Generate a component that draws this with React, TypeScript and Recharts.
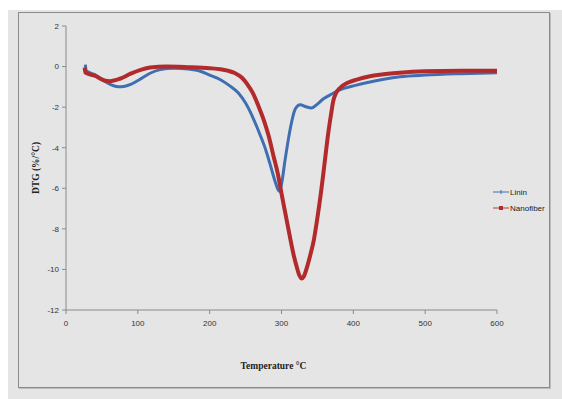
import React from 'react';
import {
  LineChart,
  Line,
  XAxis,
  YAxis,
  Label,
} from 'recharts';

// Linin DTG curve (temperature °C, %/°C)
const lininTemp = [
  27, 28, 40, 55, 65, 73, 82, 90, 102, 117, 131, 150, 170, 187, 200, 215, 228,
  240, 250, 260, 270, 278, 284, 291, 295, 297, 300, 305, 312, 319, 326, 334,
  342, 350, 358, 370, 381, 400, 428, 465, 500, 550, 600,
];
const lininDtg = [
  0.1, -0.2, -0.4, -0.75, -0.93, -1.0, -0.97, -0.88, -0.65, -0.33, -0.15,
  -0.08, -0.12, -0.23, -0.42, -0.65, -0.95, -1.3, -1.8, -2.5, -3.35, -4.1,
  -4.8, -5.65, -6.05, -6.15, -5.8, -4.6, -3.1, -2.1, -1.88, -1.98, -2.04,
  -1.85, -1.6, -1.35, -1.15, -0.95, -0.72, -0.5, -0.42, -0.35, -0.3,
];

// Nanofiber DTG curve
const nanoTemp = [
  26, 27, 40, 55, 61, 75, 90, 105, 117, 140, 170, 200, 215, 225, 235, 245,
  252, 260, 268, 275, 282, 289, 295, 300, 306, 312, 317, 321, 325, 328, 331,
  335, 340, 345, 350, 355, 360, 365, 369, 372, 376, 381, 392, 405, 420, 437,
  465, 500, 550, 600,
];
const nanoDtg = [
  -0.05, -0.3, -0.45, -0.7, -0.72, -0.6, -0.35, -0.15, -0.05, 0.0, -0.03,
  -0.08, -0.13, -0.2, -0.32, -0.55, -0.85, -1.3, -1.95, -2.6, -3.4, -4.43,
  -5.3, -6.25, -7.35, -8.45, -9.3, -9.85, -10.3, -10.45, -10.35, -9.95, -9.3,
  -8.55, -7.45, -6.2, -4.75, -3.3, -2.35, -1.7, -1.3, -1.07, -0.8, -0.64,
  -0.5, -0.4, -0.3, -0.23, -0.2, -0.2,
];

const xTicks = [0, 100, 200, 300, 400, 500, 600];
const yTicks = [-12, -10, -8, -6, -4, -2, 0, 2];

const lininData = lininTemp.map((t, i) => ({ t, v: lininDtg[i] }));
const nanoData = nanoTemp.map((t, i) => ({ t, v: nanoDtg[i] }));

const BLUE = '#3f6fb2';
const RED = '#b22a2b';
const AXIS = '#8a8a8a';

const tickStyle = {
  fontFamily: '"Liberation Sans", Arial, sans-serif',
  fontSize: 8,
  fill: '#333',
};

const legendItems = [
  { name: 'Linin', color: BLUE, square: false },
  { name: 'Nanofiber', color: RED, square: true },
];

const ChartLegend = () => (
  <div
    style={{
      position: 'absolute',
      left: 493,
      top: 184,
      fontFamily: '"Liberation Sans", Arial, sans-serif',
      fontSize: 8,
      color: '#222',
    }}
  >
    {legendItems.map((item) => (
      <div
        key={item.name}
        style={{ display: 'flex', alignItems: 'center', height: 16 }}
      >
        <svg width={16} height={8}>
          <line
            x1={0}
            y1={4}
            x2={16}
            y2={4}
            stroke={item.color}
            strokeWidth={item.square ? 2 : 1}
            opacity={item.square ? 0.45 : 1}
          />
          {item.square ? (
            <rect x={6} y={2} width={4} height={4} fill={item.color} />
          ) : (
            <line x1={8} y1={2} x2={8} y2={6} stroke={item.color} strokeWidth={1} />
          )}
        </svg>
        <span style={{ marginLeft: 1 }}>{item.name}</span>
      </div>
    ))}
  </div>
);

const titleFont = {
  fontFamily: '"Liberation Serif", "Times New Roman", serif',
  fontWeight: 'bold',
  fill: '#222',
};

export default function App() {
  return (
    <div
      style={{
        position: 'absolute',
        left: 0,
        top: 0,
        width: 562,
        height: 399,
        background: '#ffffff',
        overflow: 'hidden',
      }}
    >
      <div
        style={{
          position: 'absolute',
          left: 8,
          top: 10,
          width: 554,
          height: 389,
          background: '#e5e5e5',
        }}
      />
      <div
        style={{
          position: 'absolute',
          left: 18,
          top: 12,
          width: 530,
          height: 374,
          border: `1px solid ${AXIS}`,
          boxShadow: '1px 1px 0 #bdbdbd',
        }}
      />
      <div style={{ position: 'absolute', left: 0, top: 0 }}>
        <LineChart
          width={562}
          height={399}
          margin={{ top: 26, right: 65, bottom: 59, left: 6 }}
        >
          <XAxis
            type="number"
            dataKey="t"
            domain={[0, 600]}
            ticks={xTicks}
            allowDataOverflow
            height={30}
            stroke={AXIS}
            tickSize={4}
            tick={tickStyle}
            tickMargin={6}
          >
            <Label
              value="Temperature °C"
              position="bottom"
              offset={22}
              dx={-8}
              style={{ ...titleFont, fontSize: 9.5 }}
            />
          </XAxis>
          <YAxis
            type="number"
            domain={[-12, 2]}
            ticks={yTicks}
            width={60}
            stroke={AXIS}
            tickSize={4}
            tick={tickStyle}
            tickMargin={3}
          >
            <Label
              value="DTG (%/°C)"
              angle={-90}
              position="insideLeft"
              offset={30}
              style={{ ...titleFont, textAnchor: 'middle', fontSize: 9.5 }}
            />
          </YAxis>
          <Line
            data={lininData}
            dataKey="v"
            name="Linin"
            type="monotone"
            stroke={BLUE}
            strokeWidth={3}
            dot={false}
            isAnimationActive={false}
          />
          <Line
            data={nanoData}
            dataKey="v"
            name="Nanofiber"
            type="monotone"
            stroke={RED}
            strokeWidth={4}
            dot={false}
            isAnimationActive={false}
          />
        </LineChart>
      </div>
      <ChartLegend />
    </div>
  );
}
